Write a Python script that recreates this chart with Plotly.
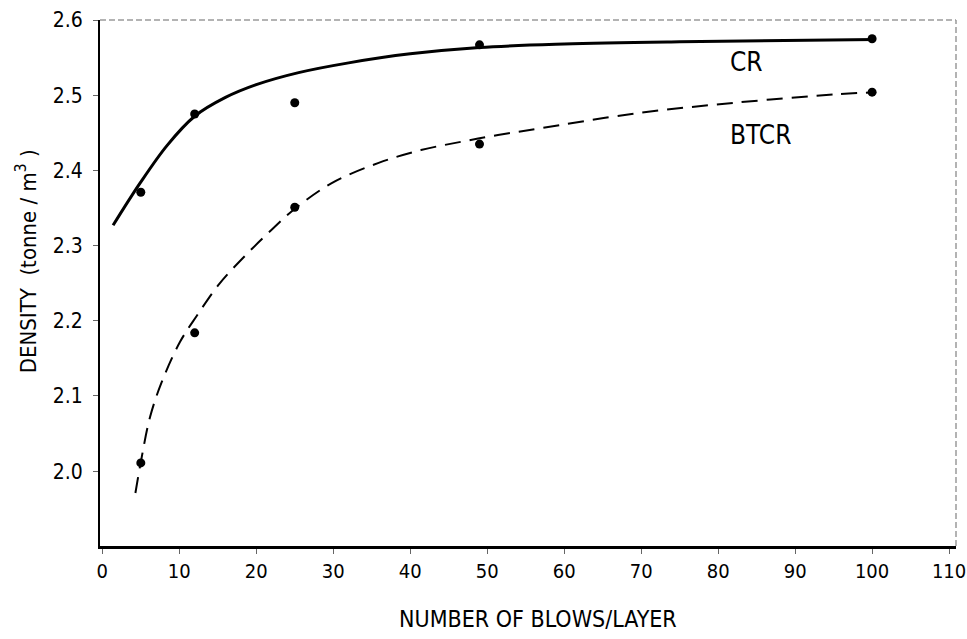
import plotly.graph_objects as go

# Measured points
blows = [5, 12, 25, 49, 100]
cr_density = [2.371, 2.475, 2.490, 2.567, 2.575]
btcr_density = [2.011, 2.184, 2.351, 2.435, 2.504]

# Fitted curves
cr_curve_x = [1.4, 4.9, 8.4, 12.0, 16.0, 20.0, 25.5, 32.0, 40.0, 49.0, 60.0, 75.0, 100.4]
cr_curve_y = [2.327, 2.383, 2.433, 2.472, 2.497, 2.514, 2.530, 2.543, 2.555, 2.5635,
              2.568, 2.571, 2.574]

btcr_curve_x = [4.3, 5.0, 6.2, 7.7, 10.1, 12.3, 15.2, 18.7, 22.1, 24.9, 29.8, 35.9, 41.4,
                46.6, 51.4, 56.9, 69.4, 82.2, 95.2, 100.4]
btcr_curve_y = [1.971, 2.012, 2.072, 2.118, 2.172, 2.207, 2.249, 2.288, 2.322, 2.348, 2.383,
                2.410, 2.427, 2.438, 2.447, 2.456, 2.476, 2.490, 2.501, 2.504]

x_ticks = [0, 10, 20, 30, 40, 50, 60, 70, 80, 90, 100, 110]
y_ticks = [2.0, 2.1, 2.2, 2.3, 2.4, 2.5, 2.6]

FONT = "DejaVu Sans Condensed, Liberation Sans Narrow, Arial Narrow, Roboto, sans-serif"

fig = go.Figure()
fig.add_trace(go.Scatter(x=cr_curve_x, y=cr_curve_y, mode="lines", line_shape="spline",
                         line=dict(color="black", width=3, smoothing=1.0),
                         showlegend=False, hoverinfo="skip"))
fig.add_trace(go.Scatter(x=btcr_curve_x, y=btcr_curve_y, mode="lines", line_shape="spline",
                         line=dict(color="black", width=2, dash="16px,9px", smoothing=1.0),
                         showlegend=False, hoverinfo="skip"))
fig.add_trace(go.Scatter(x=blows, y=cr_density, mode="markers", name="CR",
                         marker=dict(color="black", size=9), showlegend=False))
fig.add_trace(go.Scatter(x=blows, y=btcr_density, mode="markers", name="BTCR",
                         marker=dict(color="black", size=9), showlegend=False))

fig.add_annotation(x=81.3, y=2.544, text="CR", showarrow=False, xanchor="left",
                   yanchor="middle", font=dict(family=FONT, size=26, color="black"))
fig.add_annotation(x=81.3, y=2.447, text="BTCR", showarrow=False, xanchor="left",
                   yanchor="middle", font=dict(family=FONT, size=26, color="black"))

fig.add_annotation(xref="paper", yref="paper", x=0.512, y=-0.139,
                   text="NUMBER OF BLOWS/LAYER", showarrow=False,
                   xanchor="center", yanchor="middle",
                   font=dict(family=FONT, size=23, color="black"))
fig.add_annotation(xref="paper", yref="paper", x=-0.086, y=0.542,
                   text="DENSITY  (tonne / m<sup>3</sup> )", showarrow=False, textangle=-90,
                   xanchor="center", yanchor="middle",
                   font=dict(family=FONT, size=22, color="black"))

# faint top and right frame lines
fig.add_shape(type="line", xref="paper", yref="paper", x0=0, y0=1, x1=1, y1=1,
              line=dict(color="#9a9a9a", width=1.5, dash="6px,3px"))
fig.add_shape(type="line", xref="paper", yref="paper", x0=1, y0=0, x1=1, y1=1,
              line=dict(color="#9a9a9a", width=1.5, dash="6px,3px"))

fig.update_xaxes(range=[-0.3, 110.9], tickvals=x_ticks, ticktext=[str(v) for v in x_ticks],
                 showgrid=False, zeroline=False, showline=True, linecolor="black", linewidth=2.5,
                 ticks="outside", ticklen=5, tickcolor="#666", tickwidth=1,
                 ticklabeloverflow="allow", automargin=False,
                 tickfont=dict(family=FONT, size=20, color="black"))
fig.update_yaxes(range=[1.9005, 2.6], tickvals=y_ticks, ticktext=[f"{v:.1f}" for v in y_ticks],
                 showgrid=False, zeroline=False, showline=True, linecolor="black", linewidth=2,
                 ticks="outside", ticklen=5, tickcolor="#666", tickwidth=1,
                 ticklabelstandoff=6, automargin=False,
                 tickfont=dict(family=FONT, size=21, color="black"))

fig.update_layout(width=967, height=639, margin=dict(l=100, r=11, t=20, b=93),
                  plot_bgcolor="white", paper_bgcolor="white")

fig.write_html("out.html")
